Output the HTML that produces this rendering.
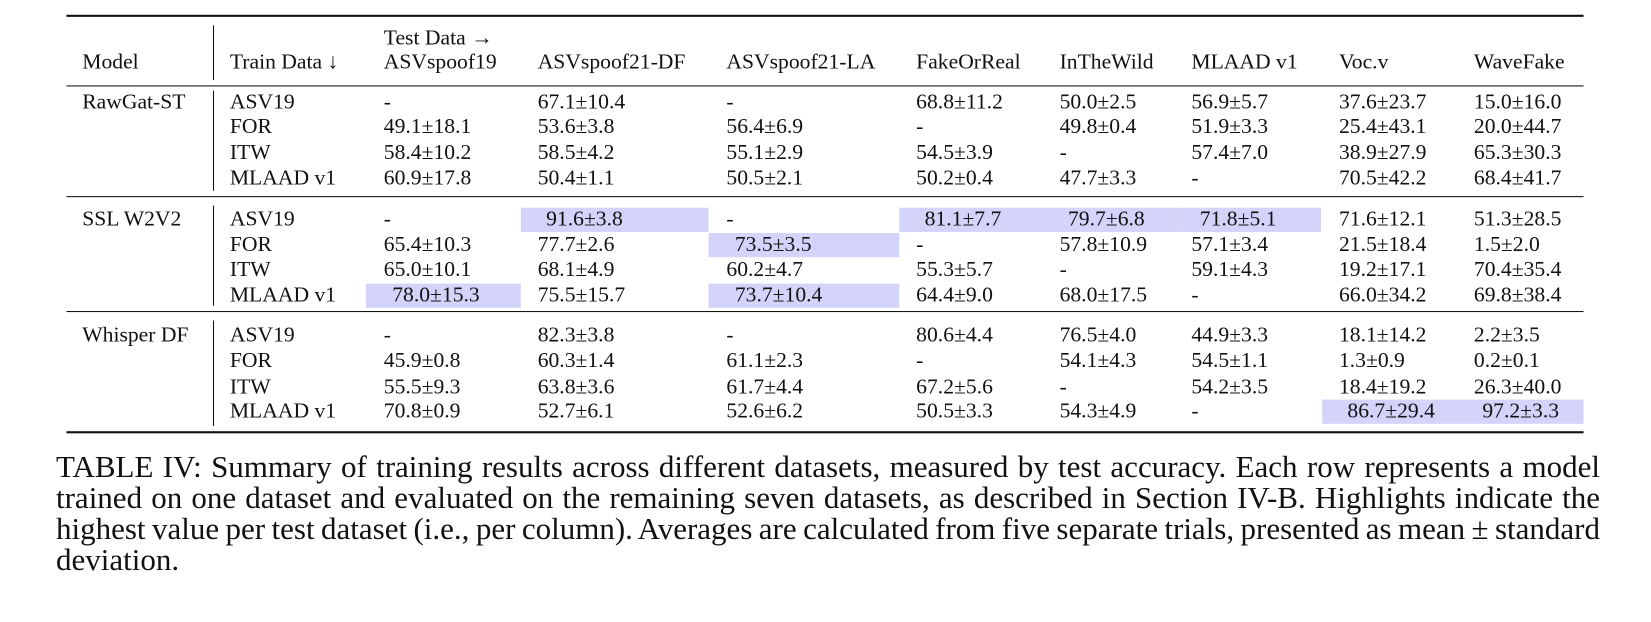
<!DOCTYPE html>
<html><head><meta charset="utf-8"><style>
body{margin:0;width:1651px;height:621px;background:#fff;position:relative;overflow:hidden;font-family:"Liberation Serif",serif;color:#111}
#w{position:absolute;left:0;top:0;width:1566px;height:590px;transform:scale(1.0543);transform-origin:0 0}
.t{position:absolute;font-size:20.5px;line-height:22px;white-space:nowrap}
.r{position:absolute;background:#111;left:63px;width:1439px}
.h{position:absolute;background:#d4d4fb;height:23px}
.cap{position:absolute;left:56px;top:451px;width:1544px;font-size:31px;line-height:31px;color:#111}
.cap div{white-space:nowrap;text-align:justify;text-align-last:justify}
.cap div.l{text-align-last:left}
</style></head><body><div id="w">
<div class="r" style="top:14px;height:2px"></div>
<div class="r" style="top:81px;height:1px"></div>
<div class="r" style="top:186px;height:1px"></div>
<div class="r" style="top:295px;height:1px"></div>
<div class="r" style="top:409px;height:2px"></div>
<div style="position:absolute;left:202px;width:1px;background:#111;top:24px;height:52px"></div>
<div style="position:absolute;left:202px;width:1px;background:#111;top:86px;height:95px"></div>
<div style="position:absolute;left:202px;width:1px;background:#111;top:195px;height:95px"></div>
<div style="position:absolute;left:202px;width:1px;background:#111;top:304px;height:100px"></div>

<div class="h" style="left:494px;width:178px;top:197px"></div>
<div class="h" style="left:853px;width:132px;top:197px"></div>
<div class="h" style="left:985px;width:133px;top:197px"></div>
<div class="h" style="left:1118px;width:135px;top:197px"></div>
<div class="h" style="left:672px;width:181px;top:221px"></div>
<div class="h" style="left:347px;width:147px;top:269px"></div>
<div class="h" style="left:672px;width:181px;top:269px"></div>
<div class="h" style="left:1254px;width:118px;top:379px"></div>
<div class="h" style="left:1372px;width:130px;top:379px"></div>

<div class="t" style="left:364px;top:25px">Test Data →</div>
<div class="t" style="left:78px;top:48px">Model</div>
<div class="t" style="left:218px;top:48px">Train Data ↓</div>
<div class="t" style="left:364px;top:48px">ASVspoof19</div>
<div class="t" style="left:510px;top:48px">ASVspoof21-DF</div>
<div class="t" style="left:689px;top:48px">ASVspoof21-LA</div>
<div class="t" style="left:869px;top:48px">FakeOrReal</div>
<div class="t" style="left:1005px;top:48px">InTheWild</div>
<div class="t" style="left:1130px;top:48px">MLAAD v1</div>
<div class="t" style="left:1270px;top:48px">Voc.v</div>
<div class="t" style="left:1398px;top:48px">WaveFake</div>

<div class="t" style="left:78px;top:86px">RawGat-ST</div>
<div class="t" style="left:78px;top:197px">SSL W2V2</div>
<div class="t" style="left:78px;top:307px">Whisper DF</div>

<div id="g"></div>
</div>
<div class="cap">
<div>TABLE IV: Summary of training results across different datasets, measured by test accuracy. Each row represents a model</div>
<div>trained on one dataset and evaluated on the remaining seven datasets, as described in Section IV-B. Highlights indicate the</div>
<div style="word-spacing:-2px">highest value per test dataset (i.e., per column). Averages are calculated from five separate trials, presented as mean ± standard</div>
<div class="l">deviation.</div>
</div>
<script>
const cols=[218,364,510,689,869,1005,1130,1270,1398];
const rows=[
[86,["ASV19","-","67.1±10.4","-","68.8±11.2","50.0±2.5","56.9±5.7","37.6±23.7","15.0±16.0"]],
[109,["FOR","49.1±18.1","53.6±3.8","56.4±6.9","-","49.8±0.4","51.9±3.3","25.4±43.1","20.0±44.7"]],
[134,["ITW","58.4±10.2","58.5±4.2","55.1±2.9","54.5±3.9","-","57.4±7.0","38.9±27.9","65.3±30.3"]],
[158,["MLAAD v1","60.9±17.8","50.4±1.1","50.5±2.1","50.2±0.4","47.7±3.3","-","70.5±42.2","68.4±41.7"]],
[197,["ASV19","-","*91.6±3.8","-","*81.1±7.7","*79.7±6.8","*71.8±5.1","71.6±12.1","51.3±28.5"]],
[221,["FOR","65.4±10.3","77.7±2.6","*73.5±3.5","-","57.8±10.9","57.1±3.4","21.5±18.4","1.5±2.0"]],
[245,["ITW","65.0±10.1","68.1±4.9","60.2±4.7","55.3±5.7","-","59.1±4.3","19.2±17.1","70.4±35.4"]],
[269,["MLAAD v1","*78.0±15.3","75.5±15.7","*73.7±10.4","64.4±9.0","68.0±17.5","-","66.0±34.2","69.8±38.4"]],
[307,["ASV19","-","82.3±3.8","-","80.6±4.4","76.5±4.0","44.9±3.3","18.1±14.2","2.2±3.5"]],
[331,["FOR","45.9±0.8","60.3±1.4","61.1±2.3","-","54.1±4.3","54.5±1.1","1.3±0.9","0.2±0.1"]],
[356,["ITW","55.5±9.3","63.8±3.6","61.7±4.4","67.2±5.6","-","54.2±3.5","18.4±19.2","26.3±40.0"]],
[379,["MLAAD v1","70.8±0.9","52.7±6.1","52.6±6.2","50.5±3.3","54.3±4.9","-","*86.7±29.4","*97.2±3.3"]]];
let h="";
for(const [y,c] of rows)c.forEach((s,i)=>{let x=cols[i];if(s[0]=="*"){s=s.slice(1);x+=8;}h+=`<div class="t" style="left:${x}px;top:${y}px">${s}</div>`;});
document.getElementById("g").innerHTML=h;
</script>
</body></html>
